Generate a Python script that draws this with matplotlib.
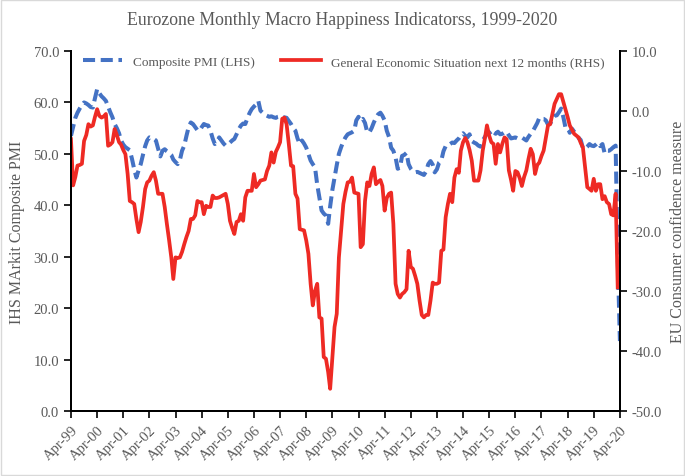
import numpy as np
import pandas as pd
import matplotlib
matplotlib.use("Agg")
import matplotlib.pyplot as plt
from matplotlib.patches import Rectangle

plt.rcParams["font.family"] = ["Liberation Serif", "DejaVu Serif"]

# Composite PMI (LHS), monthly Apr-99 .. Apr-20
pmi = [
    53.5, 55.2, 57.0, 58.0, 58.8, 59.5, 60.0, 59.8, 59.5, 59.1, 59.0, 60.8,
    62.6, 61.8, 61.2, 60.8, 60.3, 59.2, 58.1, 57.1, 55.8, 55.0, 54.0, 52.6,
    51.8, 51.3, 51.0, 50.7, 49.0, 47.0, 45.4, 46.8, 48.0, 49.8, 51.5, 52.6,
    53.2, 53.0, 52.9, 52.6, 51.0, 49.5, 50.6, 50.9, 50.5, 50.2, 49.8, 48.9,
    48.4, 48.0, 48.8, 50.6, 51.6, 53.5, 55.2, 56.1, 55.8, 55.2, 54.6, 54.5,
    55.2, 55.8, 55.6, 55.5, 54.5, 53.0, 51.9, 52.3, 53.2, 52.6, 52.0, 51.6,
    51.8, 52.2, 52.6, 52.9, 53.8, 54.8, 55.5, 55.9, 55.8, 57.0, 58.0, 58.7,
    59.2, 59.6, 60.3, 58.4, 58.0, 57.6, 57.4, 57.2, 57.3, 57.1, 57.0, 57.2,
    57.3, 57.1, 57.1, 57.0, 56.4, 55.8, 55.0, 54.5, 53.0, 51.9, 52.6, 52.0,
    51.2, 50.0, 48.7, 48.0, 47.4, 44.0, 41.5, 39.0, 38.4, 38.0, 36.4, 39.8,
    43.0, 45.4, 47.8, 50.0, 51.3, 52.4, 53.2, 53.8, 54.0, 54.2, 54.5, 56.5,
    57.2, 56.4, 56.8, 56.0, 54.2, 54.2, 55.0, 56.1, 57.0, 57.7, 58.0, 57.4,
    56.5, 54.5, 53.3, 51.2, 50.6, 49.3, 47.1, 47.3, 49.6, 49.8, 50.2, 48.0,
    47.1, 46.6, 46.4, 46.5, 46.3, 46.1, 45.9, 46.6, 48.0, 48.6, 47.9, 46.4,
    47.0, 48.3, 48.7, 50.5, 51.5, 51.9, 51.9, 52.2, 52.1, 52.6, 53.0, 53.6,
    54.0, 53.5, 53.2, 53.8, 52.5, 52.2, 52.0, 51.6, 51.4, 52.6, 53.3, 54.0,
    54.2, 53.6, 54.2, 53.9, 54.3, 53.8, 53.9, 54.2, 54.3, 53.6, 53.0, 53.1,
    53.2, 53.0, 53.1, 53.2, 52.9, 52.6, 53.3, 53.9, 54.4, 55.2, 56.0, 57.0,
    56.8, 56.8, 56.5, 55.7, 55.9, 56.7, 57.4, 57.5, 58.1, 58.8, 57.1, 55.2,
    55.1, 54.1, 54.9, 54.3, 54.1, 53.1, 52.7, 51.1, 51.0, 51.4, 51.9, 51.6,
    51.5, 51.8, 52.2, 51.5, 51.9, 50.1, 50.6, 50.6, 50.9, 51.3, 51.6, 29.7,
    13.6,
]

# General Economic Situation next 12 months (RHS), monthly Apr-99 .. Mar-20
ges = [
    -4.7, -12.4, -11.0, -9.1, -9.0, -8.8, -5.0, -4.0, -2.2, -2.6, -2.4, -1.0,
    0.3, -0.8, -1.1, -0.9, -0.5, -5.8, -5.6, -5.2, -3.0, -4.0, -5.2, -5.6,
    -6.5, -7.2, -10.5, -15.0, -15.2, -15.5, -18.0, -20.2, -18.5, -16.0, -13.0, -11.9,
    -11.6, -10.8, -10.2, -11.6, -13.8, -13.8, -13.8, -16.0, -18.8, -21.5, -24.4, -28.0,
    -24.4, -24.5, -24.4, -23.5, -22.2, -21.0, -20.0, -18.0, -18.0, -17.4, -15.0, -15.2,
    -15.2, -17.2, -15.8, -16.0, -16.0, -14.1, -14.5, -14.5, -14.4, -14.2, -14.0, -13.8,
    -15.5, -18.3, -19.5, -20.5, -18.5, -18.3, -17.2, -18.3, -14.4, -13.3, -13.3, -13.3,
    -10.5, -12.7, -12.2, -11.6, -11.5, -11.4, -10.0, -9.1, -6.9, -8.6, -6.8, -6.1,
    -5.2, -1.3, -1.1, -2.2, -5.5, -9.1, -9.2, -13.8, -14.6, -19.7, -19.8, -19.9,
    -21.6, -23.8, -28.8, -32.4, -30.0, -28.8, -34.4, -34.6, -41.0, -41.3, -43.5, -46.3,
    -41.0, -36.0, -33.8, -24.4, -20.0, -15.5, -13.5, -11.9, -11.8, -11.1, -13.6, -13.7,
    -13.8, -22.7, -22.2, -15.0, -11.9, -12.5, -10.5, -9.4, -12.2, -11.8, -11.5, -12.5,
    -16.6, -14.5, -13.8, -13.6, -18.8, -28.8, -30.5, -31.1, -30.5, -30.2, -29.7, -23.3,
    -26.0, -26.3, -27.5, -28.8, -31.6, -34.0, -34.4, -34.0, -34.0, -31.6, -28.6, -28.8,
    -28.8, -28.6, -23.3, -23.1, -17.7, -15.5, -13.8, -15.2, -11.1, -9.7, -10.3, -6.6,
    -5.2, -4.5, -5.2, -6.5, -8.3, -11.6, -11.6, -11.6, -9.9, -6.6, -4.5, -2.4,
    -4.1, -5.2, -5.5, -8.8, -5.5, -6.9, -5.5, -4.4, -4.7, -9.9, -11.5, -13.3,
    -10.0, -10.2, -11.2, -12.5, -11.0, -9.9, -8.0, -6.3, -7.2, -10.5, -9.0, -8.6,
    -7.5, -6.6, -4.5, -2.4, -2.2, -0.5, 1.2, 2.0, 2.8, 2.8, 1.5, 0.3,
    -1.0, -2.4, -3.1, -3.8, -4.1, -4.4, -5.3, -6.1, -9.4, -12.7, -13.0, -13.3,
    -11.3, -13.3, -12.2, -12.2, -14.7, -14.2, -15.2, -15.5, -17.2, -17.4, -13.8, -29.4,
]

dates_pmi = pd.date_range("1999-04-01", periods=len(pmi), freq="MS")
dates_ges = pd.date_range("1999-04-01", periods=len(ges), freq="MS")
tick_dates = pd.date_range("1999-04-01", "2020-04-01", freq="12MS")
tick_labels = [d.strftime("%b-%y") for d in tick_dates]

grey = "#595959"
blue = "#4472C4"
red = "#EE2A24"

fig = plt.figure(figsize=(6.85, 4.77), dpi=100)
ax = fig.add_axes([0.1036, 0.1363, 0.8014, 0.7547])
ax2 = ax.twinx()

l1, = ax.plot(dates_pmi, pmi, color=blue, lw=2.9, dashes=(3, 1.4),
              label="Composite PMI (LHS)")
l2, = ax2.plot(dates_ges, ges, color=red, lw=2.7,
               label="General Economic Situation next 12 months (RHS)")

ax.set_xlim(tick_dates[0], tick_dates[-1])
ax.set_ylim(0, 70)
ax2.set_ylim(-50, 10)
ax.set_yticks(np.arange(0, 71, 10))
ax2.set_yticks(np.arange(-50, 11, 10))
ax.set_yticklabels([f"{v:.1f}" for v in np.arange(0, 71, 10)])
ax2.set_yticklabels([f"{v:.1f}" for v in np.arange(-50, 11, 10)])
ax.set_xticks(tick_dates)
ax.set_xticklabels(tick_labels, rotation=45, ha="right", rotation_mode="anchor")

for a in (ax, ax2):
    a.spines["top"].set_visible(False)
    for s in ("left", "right", "bottom"):
        a.spines[s].set_linewidth(1.4)
        a.spines[s].set_color("black")
    a.tick_params(direction="out", length=5, width=1.2, colors="black",
                  labelcolor=grey, labelsize=10.5)

ax.set_ylabel("IHS MArkit Composite PMI", color=grey, fontsize=11.5, labelpad=6)
ax2.set_ylabel("EU Consumer confidence measure", color=grey, fontsize=11.5,
               rotation=90, labelpad=6)

fig.suptitle("Eurozone Monthly Macro Happiness Indicatorss, 1999-2020",
             color=grey, fontsize=12.8, y=0.975)

ax2.legend(handles=[l1, l2], loc="upper center", ncol=2, frameon=False,
           fontsize=9.5, labelcolor=grey, handlelength=3.0,
           bbox_to_anchor=(0.497, 1.02), columnspacing=2.0)

fig.patches.append(Rectangle((0.002, 0.003), 0.996, 0.994, transform=fig.transFigure,
                             fill=False, edgecolor="#d9d9d9", lw=1.0))

fig.savefig("out.png", dpi=100)
